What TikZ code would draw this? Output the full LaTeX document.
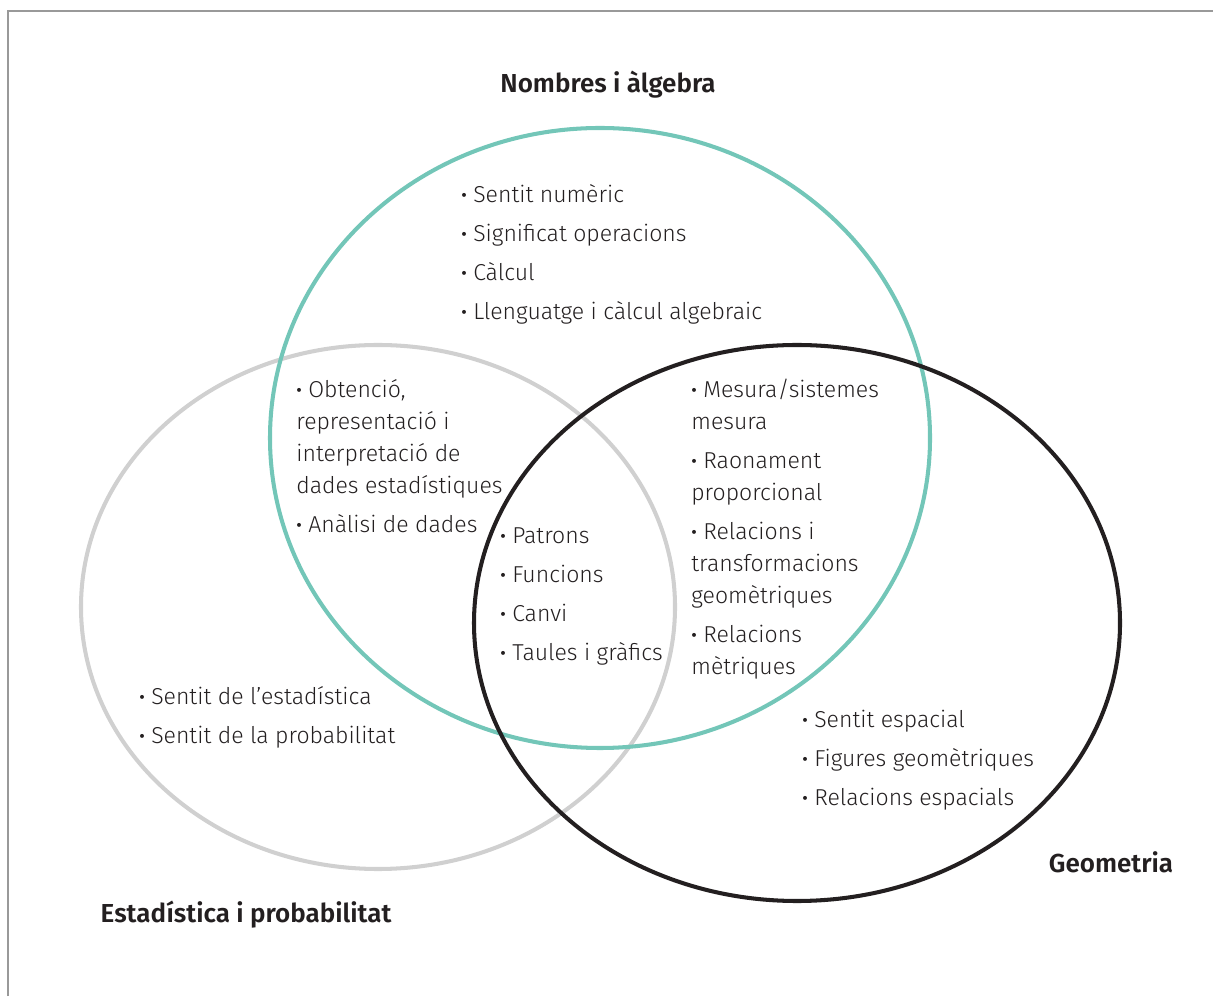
\documentclass[tikz,border=0pt]{standalone}
\usepackage{fontspec}
\setmainfont{Fira Sans}[UprightFont=* Light, BoldFont=* SemiBold]
\usetikzlibrary{positioning}

\definecolor{tealline}{HTML}{73C6B8}
\definecolor{greyline}{HTML}{D0D0D0}
\definecolor{darkline}{HTML}{231F20}

\newcommand{\itm}{{\bfseries\textperiodcentered}\ }

\tikzset{
  setline/.style={line width=2.3pt},
  items/.style={anchor=north west, inner sep=0pt, align=left, text=darkline,
                font=\fontsize{13.1}{18.2}\selectfont},
  settitle/.style={inner sep=0pt, text=darkline, font=\fontsize{14.8}{17}\selectfont\bfseries}
}

\begin{document}
\begin{tikzpicture}
\useasboundingbox (0,0) rectangle (24.26,19.92);
% frame
\draw[gray!80, line width=1pt] (0.16,0) |- (24.26,19.70);

% the three sets
\draw[setline, greyline] (7.56,7.78) ellipse [x radius=5.94cm, y radius=5.24cm];
\draw[setline, tealline] (12.00,11.16) ellipse [x radius=6.60cm, y radius=6.20cm];
\draw[setline, darkline] (15.94,7.46) ellipse [x radius=6.46cm, y radius=5.56cm];

% titles
\node (tnum) [settitle] at (12.16,18.22) {Nombres i àlgebra};
\node (test) [settitle] at (4.92,1.62) {Estadística i probabilitat};
\node (tgeo) [settitle] at (22.22,2.68) {Geometria};

% contents
\node (num) [items] at (9.22,16.24) {\itm Sentit numèric\\[4.0pt]
  \itm Significat operacions\\[4.0pt]
  \itm Càlcul\\[4.0pt]
  \itm Llenguatge i càlcul algebraic};
\node (numest) [items] at (5.92,12.34) {\itm Obtenció,\\
  representació i\\
  interpretació de\\
  dades estadístiques\\[4.0pt]
  \itm Anàlisi de dades};
\node (all) [items] at (10.00,9.38) {\itm Patrons\\[4.0pt]
  \itm Funcions\\[4.0pt]
  \itm Canvi\\[4.0pt]
  \itm Taules i gràfics};
\node (numgeo) [items] at (13.82,12.34) {\itm Mesura/sistemes\\
  mesura\\[4.0pt]
  \itm Raonament\\
  proporcional\\[4.0pt]
  \itm Relacions i\\
  transformacions\\
  geomètriques\\[4.0pt]
  \itm Relacions\\
  mètriques};
\node (est) [items] at (2.78,6.20) {\itm Sentit de l’estadística\\[4.0pt]
  \itm Sentit de la probabilitat};
\node (geo) [items] at (16.04,5.72) {\itm Sentit espacial\\[4.0pt]
  \itm Figures geomètriques\\[4.0pt]
  \itm Relacions espacials};
\end{tikzpicture}
\end{document}
